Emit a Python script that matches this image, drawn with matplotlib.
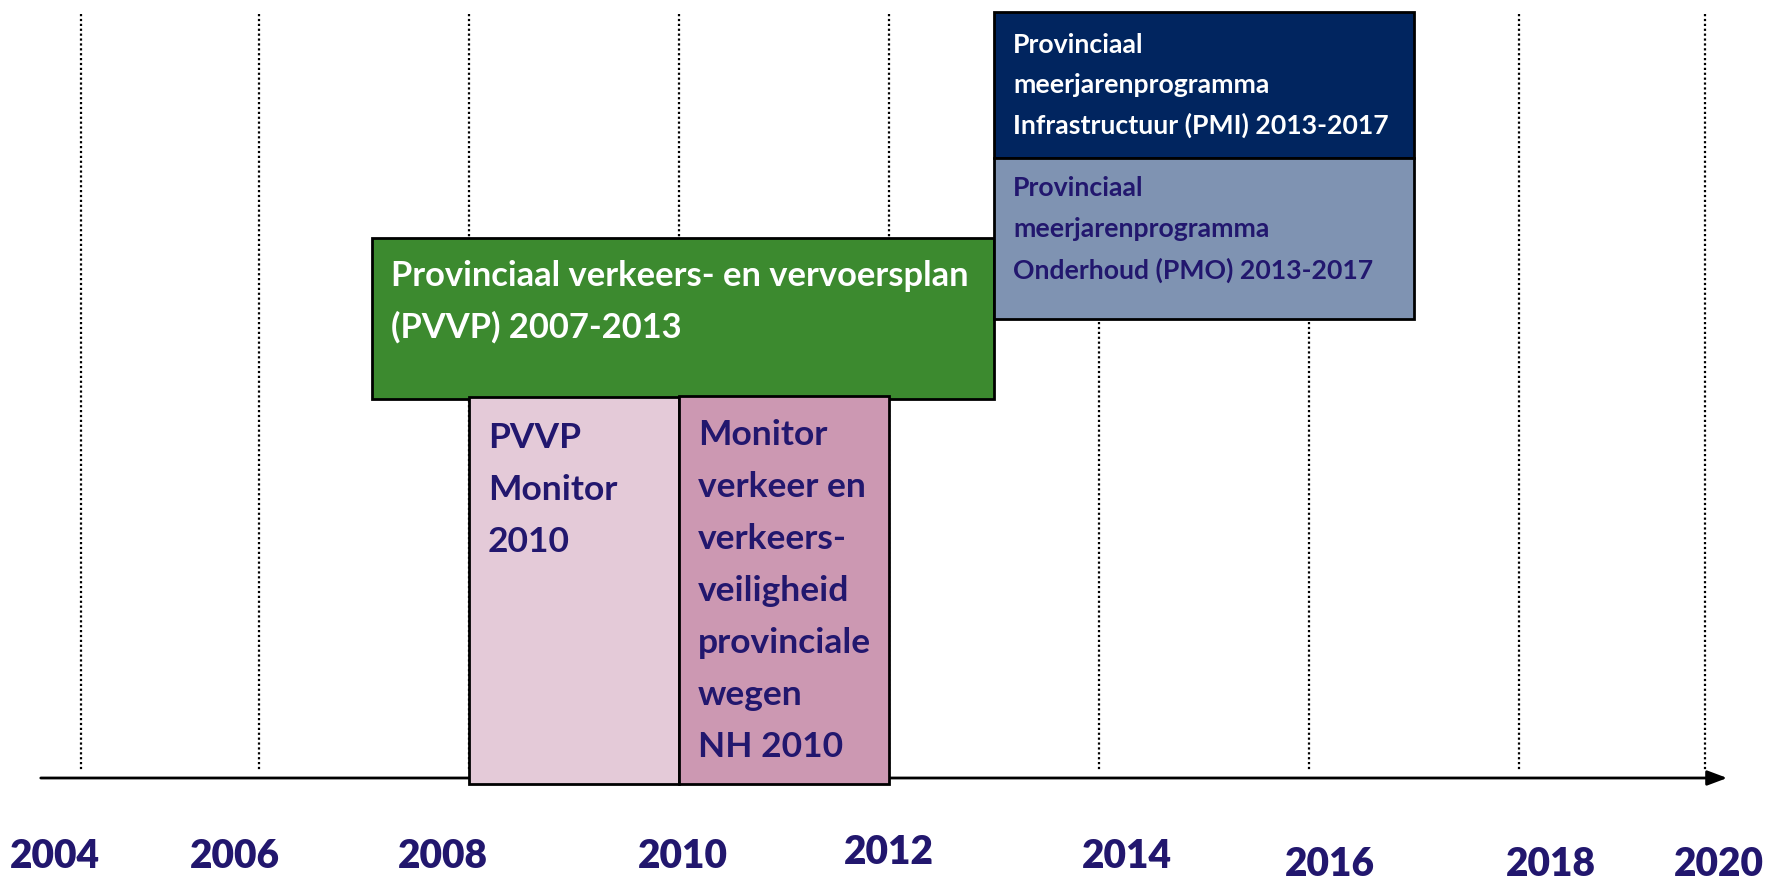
import matplotlib.pyplot as plt
from matplotlib.patches import Rectangle

# tijdlijn: jaartallen
years = [2004, 2006, 2008, 2010, 2012, 2014, 2016, 2018, 2020]
grid_years = [2004.3, 2006, 2008, 2010, 2012, 2014, 2016, 2018, 2019.77]

# programma's / plannen
plan_labels = [
    "Provinciaal verkeers- en vervoersplan\n(PVVP) 2007-2013",
    "Provinciaal\nmeerjarenprogramma\nInfrastructuur (PMI) 2013-2017",
    "Provinciaal\nmeerjarenprogramma\nOnderhoud (PMO) 2013-2017",
    "PVVP\nMonitor\n2010",
    "Monitor\nverkeer en\nverkeers-\nveiligheid\nprovinciale\nwegen\nNH 2010",
]
plan_start = [2007.08, 2013, 2013, 2008, 2010]
plan_end = [2013, 2017, 2017, 2010, 2012]

# opmaak per blok: (boven, onder) in pixels, kleur, tekstkleur, grootte, regelafstand, eerste regel
box_top = [238, 12, 158, 397, 396]
box_bottom = [399, 158, 319, 784, 784]
box_color = ["#3C8A2F", "#01255F", "#7F93B2", "#E4CAD8", "#CC98B2"]
text_color = ["white", "white", "#22176E", "#22176E", "#22176E"]
text_size = [24.8, 19.2, 19.2, 25.5, 25.5]
line_step = [51, 40, 41, 52, 52]
first_line = [276, 45, 188, 438, 435]
navy = "#22176E"

# kleine verschuivingen van de jaartallen zoals in het origineel
label_dx = [0.06, -0.23, -0.25, 0.04, 0.0, 0.27, 0.2, 0.3, -0.1]
label_y = [857, 857, 857, 857, 853, 857, 865, 865, 865]

W, H = 1769, 881
fig = plt.figure(figsize=(W / 100, H / 100), dpi=100)
ax = fig.add_axes([0, 0, 1, 1])
x0 = 2008 - 469 / 105
ax.set_xlim(x0, x0 + W / 105)
ax.set_ylim(H, 0)
ax.axis("off")
plt.rcParams["font.family"] = ["Lato", "DejaVu Sans"]

# stippellijnen
for gx in grid_years:
    ax.plot([gx, gx], [14, 770], color="black", lw=1.6, ls=(0, (1, 1.2)), zorder=1)

# tijdas met pijl
ax.annotate("", xy=(x0 + 1730 / 105, 778), xytext=(x0 + 38 / 105, 778),
            arrowprops=dict(arrowstyle="-|>,head_length=1.2,head_width=0.45",
                            color="black", lw=2), zorder=2)

for i, lab in enumerate(plan_labels):
    s, e = plan_start[i], plan_end[i]
    ax.add_patch(Rectangle((s, box_top[i]), e - s, box_bottom[i] - box_top[i],
                           facecolor=box_color[i], edgecolor="black", lw=2, zorder=3))
    for j, line in enumerate(lab.split("\n")):
        ax.text(s + 19 / 105, first_line[i] + j * line_step[i], line,
                color=text_color[i], fontsize=text_size[i], fontweight="bold",
                ha="left", va="center", zorder=4)

for k, yr in enumerate(years):
    ax.text(yr + label_dx[k], label_y[k], str(yr), color=navy, fontsize=28,
            fontweight="heavy", ha="center", va="center")

fig.savefig("out.png", dpi=100)
